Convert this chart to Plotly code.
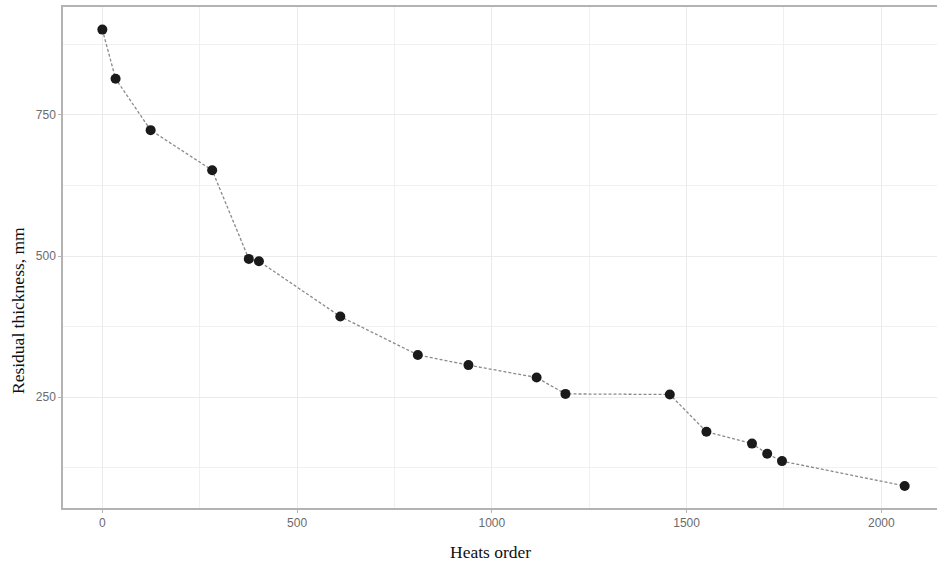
import plotly.graph_objects as go

heats_order = [0, 34, 124, 282, 376, 402, 611, 810, 940, 1115, 1189, 1457, 1551, 1668, 1707, 1745, 2060]
residual_mm = [901, 814, 723, 652, 495, 491, 393, 325, 307, 285, 256, 255, 189, 168, 150, 137, 93]

x_ticks = [0, 500, 1000, 1500, 2000]
y_ticks = [250, 500, 750]

W, H = 937, 566
ML, MR, MT, MB = 63, 0, 7, 58

fig = go.Figure()
fig.add_trace(go.Scatter(
    x=heats_order, y=residual_mm, mode="lines+markers",
    line=dict(color="#8a8a8a", width=1.3, dash="3px,2px"),
    marker=dict(color="#1a1a1a", size=10),
    showlegend=False,
))

axis_common = dict(
    showline=True, linecolor="#b3b3b3", linewidth=1.5,
    showgrid=True, gridcolor="#ebebeb", gridwidth=1,
    ticks="outside", ticklen=3, tickcolor="#b3b3b3",
    tickfont=dict(family="Liberation Sans, Arial, sans-serif", size=12, color="#6b6b6b"),
    zeroline=False,
)

title_font = dict(family="Liberation Serif, Times New Roman, serif", size=17.5, color="#111")

fig.update_layout(
    width=W, height=H,
    margin=dict(l=ML, r=MR, t=MT, b=MB),
    plot_bgcolor="white", paper_bgcolor="white",
    xaxis=dict(
        range=[-101, 2143], tickvals=x_ticks, mirror=True,
        minor=dict(dtick=250, tick0=0, showgrid=True, gridcolor="#f0f0f0", gridwidth=1),
        **axis_common,
    ),
    yaxis=dict(
        range=[54, 941], tickvals=y_ticks, mirror=False,
        minor=dict(dtick=125, tick0=0, showgrid=True, gridcolor="#f0f0f0", gridwidth=1),
        **axis_common,
    ),
    annotations=[
        dict(text="Heats order", xref="paper", yref="paper",
             x=(490 - ML) / (W - ML - MR), y=-(552 - (H - MB)) / (H - MT - MB),
             xanchor="center", yanchor="middle", showarrow=False, font=title_font),
        dict(text="Residual thickness, mm", xref="paper", yref="paper",
             x=-(ML - 18) / (W - ML - MR), y=((H - MB) - 311) / (H - MT - MB),
             xanchor="center", yanchor="middle", textangle=-90, showarrow=False, font=title_font),
    ],
)

fig.write_html("out.html")
